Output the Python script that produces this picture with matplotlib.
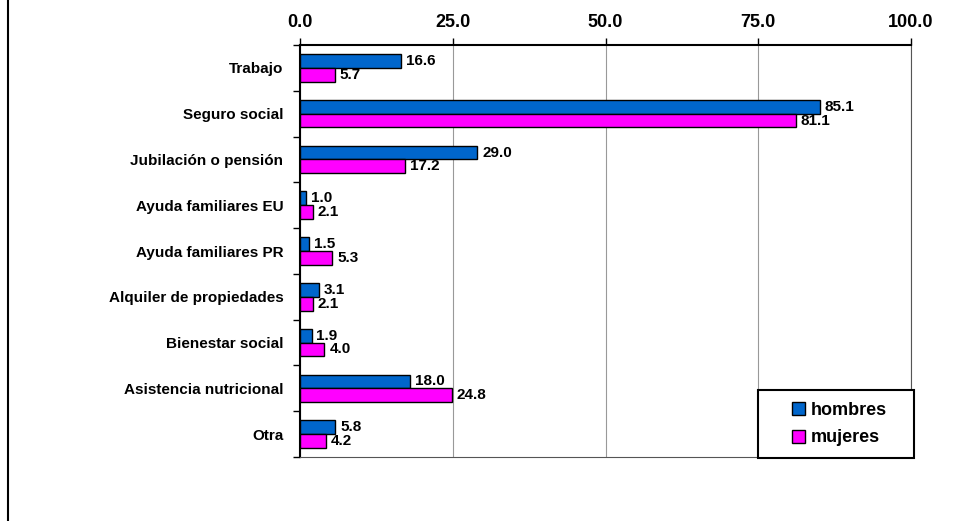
import numpy as np
import matplotlib.pyplot as plt
from matplotlib.lines import Line2D
from matplotlib.patches import Rectangle

categories = ['Trabajo', 'Seguro social', 'Jubilación o pensión', 'Ayuda familiares EU',
              'Ayuda familiares PR', 'Alquiler de propiedades', 'Bienestar social',
              'Asistencia nutricional', 'Otra']
hombres = [16.6, 85.1, 29.0, 1.0, 1.5, 3.1, 1.9, 18.0, 5.8]
mujeres = [5.7, 81.1, 17.2, 2.1, 5.3, 2.1, 4.0, 24.8, 4.2]
xticks = [0, 25, 50, 75, 100]

plt.rcParams['font.family'] = ['Liberation Sans', 'DejaVu Sans']

W, H = 969, 521
fig = plt.figure(figsize=(W / 100, H / 100), dpi=100)
# plot area in pixels: x 300..911, y 45..457
ax = fig.add_axes([300 / W, 1 - 457 / H, 611 / W, 412 / H])

y = np.arange(len(categories))
h = 0.30
ax.barh(y - h / 2, hombres, height=h, color='#0066CC', edgecolor='black',
        linewidth=1, label='hombres', zorder=3)
ax.barh(y + h / 2, mujeres, height=h, color='#FF00FF', edgecolor='black',
        linewidth=1, label='mujeres', zorder=3)

for yy, v in zip(y, hombres):
    ax.text(v + 0.8, yy - h / 2, f'{v:.1f}', va='center', ha='left',
            fontsize=11, fontweight='bold', zorder=4)
for yy, v in zip(y, mujeres):
    ax.text(v + 0.8, yy + h / 2, f'{v:.1f}', va='center', ha='left',
            fontsize=11, fontweight='bold', zorder=4)

ax.set_xlim(0, 100)
ax.set_ylim(len(categories) - 0.5, -0.5)
ax.set_xticks(xticks)
ax.set_xticklabels([f'{t:.1f}' for t in xticks], fontsize=13, fontweight='bold')
ax.xaxis.tick_top()
ax.tick_params(axis='x', direction='out', length=5, width=1, pad=5)

ax.set_yticks(y)
ax.set_yticklabels(categories, fontsize=11, fontweight='bold')
ax.set_yticks(np.arange(len(categories) + 1) - 0.5, minor=True)
ax.tick_params(axis='y', which='major', length=0, pad=12)
ax.tick_params(axis='y', which='minor', direction='out', length=5, width=1)

ax.grid(axis='x', color='#999999', linewidth=0.8, zorder=0)
for side in ['top', 'left']:
    ax.spines[side].set_linewidth(1.5)
for side in ['right', 'bottom']:
    ax.spines[side].set_color('#555555')
    ax.spines[side].set_linewidth(0.8)

# legend box (drawn separately so the padding matches the reference)
x0 = (758 - 300) / 611
x1 = (914 - 300) / 611
y0 = (457 - 458) / 412
y1 = (457 - 390) / 412
ax.add_patch(Rectangle((x0, y0), x1 - x0, y1 - y0, transform=ax.transAxes,
                       facecolor='white', edgecolor='black', linewidth=1.5,
                       clip_on=False, zorder=5))
leg = ax.legend(loc='center left', bbox_to_anchor=((792 - 300) / 611, (457 - 424) / 412),
                prop={'weight': 'bold', 'size': 13}, frameon=False,
                handlelength=0.72, handleheight=0.72, handletextpad=0.3,
                borderpad=0, labelspacing=0.6, borderaxespad=0)
leg.set_zorder(6)

fig.add_artist(Line2D([8 / W, 8 / W], [0, 1], color='black', linewidth=1.5))

fig.savefig('out.png', dpi=100)
